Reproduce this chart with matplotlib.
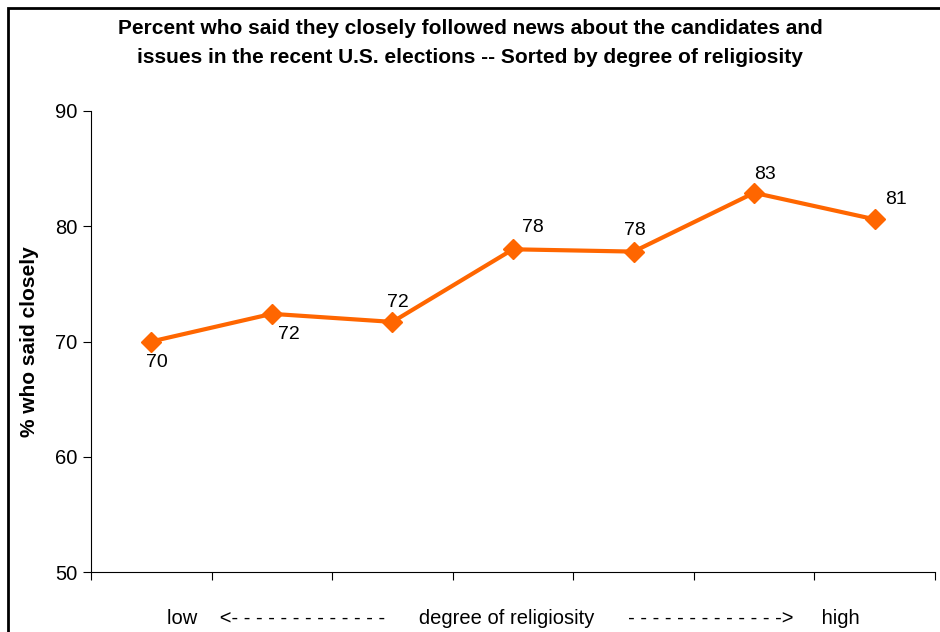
import numpy as np
import matplotlib.pyplot as plt
from matplotlib.patches import Rectangle

plt.rcParams['font.family'] = ['Liberation Sans', 'DejaVu Sans']

# data (low -> high religiosity)
groups = [1, 2, 3, 4, 5, 6, 7]
pct = [70.0, 72.4, 71.7, 78.0, 77.8, 82.9, 80.6]
labels = ['70', '72', '72', '78', '78', '83', '81']
# label offsets in points (dx, dy)
offsets = [(4, -15), (12, -15), (4, 14), (14, 16), (1, 15), (8, 13), (15, 14)]
yticks = [50, 60, 70, 80, 90]

orange = '#FF6600'

fig = plt.figure(figsize=(9.4, 6.32), dpi=100)
ax = fig.add_axes([0.0968, 0.0949, 0.8979, 0.7295])

x = np.arange(len(groups))
ax.plot(x, pct, color=orange, lw=3, marker='D', ms=10, mec=orange, mfc=orange, zorder=3)

for xi, yi, lab, (dx, dy) in zip(x, pct, labels, offsets):
    ax.annotate(lab, (xi, yi), xytext=(dx, dy), textcoords='offset points',
                ha='center', va='center', fontsize=14)

ax.set_xlim(-0.5, len(groups) - 0.5)
ax.set_ylim(50, 90)
ax.set_yticks(yticks)
ax.set_yticklabels([str(t) for t in yticks], fontsize=14.5)
# ticks between categories
ax.set_xticks(np.arange(len(groups) + 1) - 0.5)
ax.set_xticklabels([])
ax.tick_params(axis='x', direction='out', length=6, width=0.8)
ax.tick_params(axis='y', direction='out', length=6, width=0.8, pad=4)

for s in ['top', 'right']:
    ax.spines[s].set_visible(False)
for s in ['left', 'bottom']:
    ax.spines[s].set_linewidth(0.8)

ax.set_ylabel('% who said closely', fontsize=15, fontweight='bold', labelpad=11)
ax.set_xlabel('low    <- - - - - - - - - - - - -      degree of religiosity      - - - - - - - - - - - - ->     high',
              fontsize=14.5, labelpad=17)

fig.text(0.5, 0.97, 'Percent who said they closely followed news about the candidates and\n'
         'issues in the recent U.S. elections -- Sorted by degree of religiosity',
         ha='center', va='top', fontsize=15, fontweight='bold', linespacing=1.65)

# outer frame
fig.patches.append(Rectangle((0.0085, -0.05), 1.1, 1.038, transform=fig.transFigure,
                             fill=False, lw=2, ec='black'))

fig.savefig('out.png', dpi=100)
